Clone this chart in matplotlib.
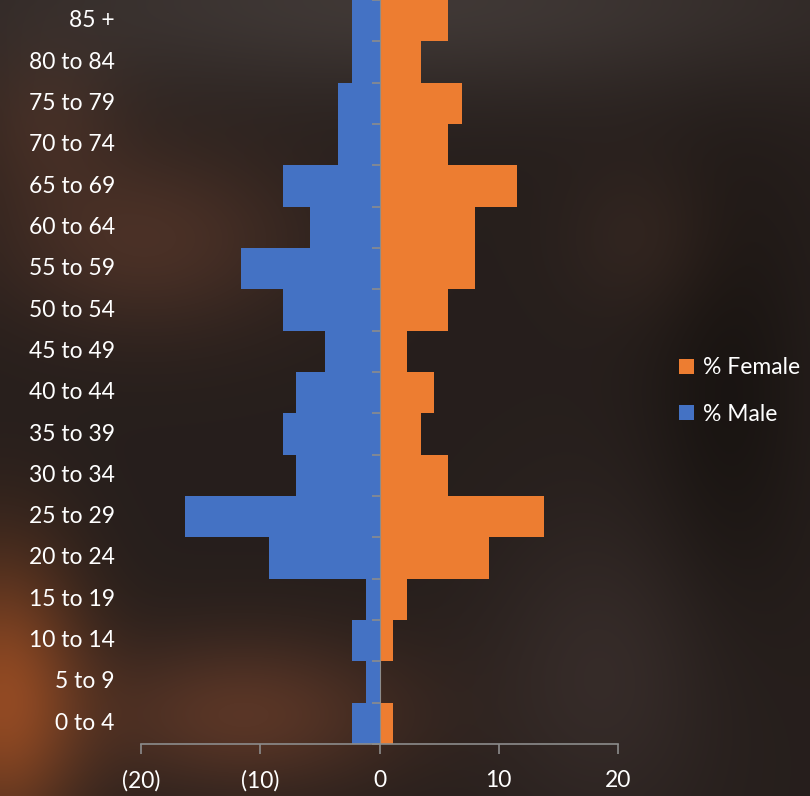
import numpy as np
import matplotlib
matplotlib.use('Agg')
import matplotlib.pyplot as plt

# age groups, bottom to top
grupos = ['0 to 4', '5 to 9', '10 to 14', '15 to 19', '20 to 24', '25 to 29',
          '30 to 34', '35 to 39', '40 to 44', '45 to 49', '50 to 54', '55 to 59',
          '60 to 64', '65 to 69', '70 to 74', '75 to 79', '80 to 84', '85 +']
pct_male = [-2.3, -1.15, -2.3, -1.15, -9.3, -16.3, -7.0, -8.1, -7.0, -4.6,
            -8.1, -11.6, -5.8, -8.1, -3.5, -3.5, -2.3, -2.3]
pct_female = [1.15, 0.0, 1.15, 2.3, 9.2, 13.8, 5.75, 3.5, 4.6, 2.3,
              5.75, 8.0, 8.0, 11.5, 5.75, 6.9, 3.5, 5.75]
ticks_x = [-20, -10, 0, 10, 20]
ticks_x_lbl = ['(20)', '(10)', '0', '10', '20']

plt.rcParams['font.family'] = ['Lato', 'DejaVu Sans']

fig = plt.figure(figsize=(8.1, 7.96), dpi=100)

# blurry dark background (approximation of the photo)
h, w = 200, 204
yy, xx = np.mgrid[0:1:h * 1j, 0:1:w * 1j]
img = np.zeros((h, w, 3))
img[:] = (0.15, 0.12, 0.11)
def blob(cx, cy, sx, sy, col, a):
    g = np.exp(-(((xx - cx) / sx) ** 2 + ((yy - cy) / sy) ** 2))
    for k in range(3):
        img[..., k] += a * g * col[k]
blob(0.5, 0.0, 0.6, 0.12, (0.2, 0.2, 0.2), 0.5)
blob(0.0, 0.88, 0.1, 0.18, (0.5, 0.2, 0.03), 0.8)
blob(0.3, 0.9, 0.2, 0.1, (0.4, 0.18, 0.08), 0.5)
blob(0.18, 0.3, 0.2, 0.12, (0.28, 0.14, 0.08), 0.5)
blob(0.05, 0.15, 0.1, 0.1, (0.22, 0.11, 0.06), 0.4)
blob(0.75, 0.85, 0.15, 0.2, (0.12, 0.1, 0.1), 0.5)
blob(0.9, 0.5, 0.1, 0.3, (-0.05, -0.04, -0.04), 1.0)
blob(0.8, 0.3, 0.1, 0.1, (0.1, 0.06, 0.04), 0.5)
img = np.clip(img, 0, 1)
bg = fig.add_axes([0, 0, 1, 1])
bg.imshow(img, aspect='auto', extent=[0, 1, 0, 1], interpolation='bicubic')
bg.axis('off')

ax = fig.add_axes([141 / 810, 1 - 744 / 796, 477 / 810, 744 / 796])
ax.patch.set_alpha(0)
ax.set_axisbelow(False)
y = np.arange(len(grupos))
ax.barh(y, pct_female, height=1.0, color='#ED7D31', label='% Female', zorder=2)
ax.barh(y, pct_male, height=1.0, color='#4472C4', label='% Male', zorder=2)

ax.set_xlim(-20, 20)
ax.set_ylim(-0.5, len(grupos) - 0.5)

for s in ['top', 'right']:
    ax.spines[s].set_visible(False)
ax.spines['left'].set_position(('data', 0))
ax.spines['left'].set_color('#8c8c8c')
ax.spines['left'].set_zorder(3)
ax.spines['bottom'].set_color('#8c8c8c')
ax.spines['bottom'].set_linewidth(1.2)

ax.set_yticks(np.arange(len(grupos) + 1) - 0.5)
ax.set_yticklabels([])
ax.tick_params(axis='y', length=6, color='#8c8c8c', width=1.2)
for i, g in enumerate(grupos):
    ax.text(-0.055, i, g, transform=ax.get_yaxis_transform(), ha='right',
            va='center', color='white', fontsize=16.5)

ax.set_xticks(ticks_x)
ax.set_xticklabels(ticks_x_lbl)
ax.tick_params(axis='x', length=7, color='#8c8c8c', width=1.2, pad=12,
               labelcolor='white', labelsize=16.5)

hnd, lab = ax.get_legend_handles_labels()
leg = fig.legend(hnd, lab, loc='center left', bbox_to_anchor=(658 / 810, 1 - 391 / 796),
                 frameon=False, labelcolor='white', fontsize=16.5, handlelength=0.65,
                 handleheight=0.65, handletextpad=0.4, labelspacing=1.1)

fig.savefig('out.png', dpi=100)
